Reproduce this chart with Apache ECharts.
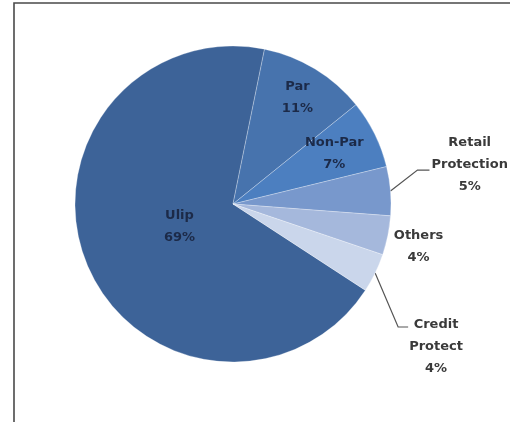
<!DOCTYPE html>
<html>
<head>
<meta charset="utf-8">
<script src="https://cdn.jsdelivr.net/npm/echarts@6/dist/echarts.min.js"></script>
<style>
  html, body { margin: 0; padding: 0; background: #ffffff; }
  #chart { width: 510px; height: 422px; }
</style>
</head>
<body>
<div id="chart"></div>
<script>
// Premium mix by product line (%)
const categories = ['Ulip', 'Par', 'Non-Par', 'Retail\nProtection', 'Others', 'Credit\nProtect'];
const shares = [69, 11, 7, 5, 4, 4];

// Slice fills, in the same order as the categories
const sliceColors = ['#3d6398', '#4773ad', '#4c7fc0', '#7898cc', '#a5b8dc', '#cad6eb'];

const FONT = 'DejaVu Sans';
const CENTER = [233, 204];
const RADIUS = 158;
const START = -33.1;
const LINE_H = 22;

function richLines(name, value) {
  return name.split('\n').concat(value + '%').map(function (s) { return '{c|' + s + '}'; }).join('\n');
}

const baseData = categories.map(function (name, i) {
  return { name: name, value: shares[i] };
});

// Outside label placement relative to the point where the leader line leaves the slice
const outsideLabels = {
  3: { dx: 41, dy: -26, lineAt: 'middle' },
  4: { dx: 6, dy: 11, lineAt: null },
  5: { dx: 34, dy: 74, lineAt: 'top' }
};

// Inside labels: each one sits halfway across its own ring
const insideRings = [
  { index: 0, radius: [0, 110] },
  { index: 1, radius: [84, RADIUS] },
  { index: 2, radius: [62, RADIUS] }
];

const chart = echarts.init(document.getElementById('chart'), null, { renderer: 'canvas' });

const mainSeries = {
  type: 'pie',
  center: CENTER,
  radius: [0, RADIUS],
  startAngle: START,
  clockwise: true,
  avoidLabelOverlap: false,
  itemStyle: { borderWidth: 0.8, borderColor: 'rgba(255,255,255,0.35)' },
  emphasis: { disabled: true },
  data: baseData.map(function (d, i) {
    const cfg = outsideLabels[i];
    return {
      name: d.name,
      value: d.value,
      itemStyle: { color: sliceColors[i] },
      label: { show: !!cfg },
      labelLine: {
        show: !!cfg,
        length: 6,
        length2: 4,
        lineStyle: { color: '#555555', width: 1.2, opacity: (cfg && cfg.lineAt) ? 1 : 0 }
      }
    };
  }),
  label: {
    position: 'outside',
    overflow: 'none',
    bleedMargin: 0,
    formatter: function (p) { return richLines(p.name, p.value); },
    rich: {
      c: { fontFamily: FONT, fontWeight: 'bold', fontSize: 13, color: '#3a3a3a', align: 'center', lineHeight: LINE_H }
    }
  },
  labelLayout: function (params) {
    const cfg = outsideLabels[params.dataIndex];
    if (!cfg || !params.labelLinePoints) return {};
    const p0 = params.labelLinePoints[0];
    const left = p0[0] + cfg.dx;
    const midY = p0[1] + cfg.dy;
    const out = { x: left, y: midY, align: 'left', verticalAlign: 'middle' };
    if (cfg.lineAt === 'middle') {
      out.labelLinePoints = [p0, [left - 14, midY + 5], [left - 2, midY + 5]];
    } else if (cfg.lineAt === 'top') {
      const ty = midY - LINE_H + 2;
      out.labelLinePoints = [p0, [left - 11, ty], [left - 1, ty]];
    } else {
      out.labelLinePoints = [p0, p0, p0];
    }
    return out;
  }
};

const labelSeries = insideRings.map(function (ring) {
  return {
    type: 'pie',
    center: CENTER,
    radius: ring.radius,
    startAngle: START,
    clockwise: true,
    silent: true,
    avoidLabelOverlap: false,
    itemStyle: { color: 'rgba(0,0,0,0)' },
    emphasis: { disabled: true },
    labelLine: { show: false },
    data: baseData.map(function (d, i) {
      return { name: d.name, value: d.value, label: { show: i === ring.index } };
    }),
    label: {
      position: 'inside',
      formatter: function (p) { return richLines(p.name, p.value); },
      rich: {
        c: { fontFamily: FONT, fontWeight: 'bold', fontSize: 13, color: '#1c2a48', align: 'center', lineHeight: LINE_H }
      }
    }
  };
});

chart.setOption({
  backgroundColor: '#ffffff',
  animation: false,
  graphic: [{
    type: 'rect',
    shape: { x: 14, y: 3, width: 600, height: 600 },
    style: { fill: 'none', stroke: '#4a4a4a', lineWidth: 1.6 },
    silent: true
  }],
  series: [mainSeries].concat(labelSeries)
});
</script>
</body>
</html>
